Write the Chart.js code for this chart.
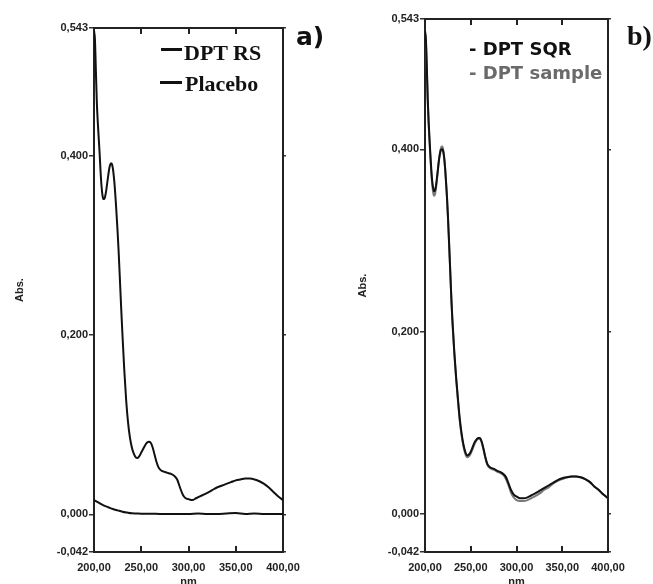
<!DOCTYPE html>
<html><head><meta charset="utf-8">
<script src="https://cdn.jsdelivr.net/npm/chart.js@4.4.0/dist/chart.umd.min.js"></script>
<style>
body{margin:0;background:#fff;width:653px;height:584px;overflow:hidden;position:relative;}
canvas{position:absolute;top:0;}
.t{position:absolute;white-space:nowrap;color:#111;line-height:1;}
.mk{position:absolute;height:3px;background:#111;}
</style></head><body>
<canvas id="ca" width="330" height="584" style="left:0"></canvas>
<canvas id="cb" width="313" height="584" style="left:340px"></canvas>

<div class="mk" style="left:161px;top:48px;width:21px"></div>
<div class="t" style="left:184px;top:40px;font:bold 22px 'Liberation Serif'">DPT RS</div>
<div class="mk" style="left:160px;top:81px;width:22px"></div>
<div class="t" style="left:185px;top:71px;font:bold 22px 'Liberation Serif'">Placebo</div>
<div class="t" style="left:296px;top:22px;font:bold 25px 'DejaVu Sans'">a)</div>

<div class="t" style="left:469px;top:38px;font:bold 18px 'DejaVu Sans';color:#111">- DPT SQR</div>
<div class="t" style="left:469px;top:62px;font:bold 18px 'DejaVu Sans';color:#6a6a6a">- DPT sample</div>
<div class="t" style="left:627px;top:20px;font:bold 28px 'Liberation Serif'">b)</div>

<script>
// ---- data ----
const wavelengths = [200,201,202,203,204,205,206,207,208,209,210,211,212,213,214,215,216,217,218,219,220,221,222,223,224,225,226,227,228,229,230,232,234,236,238,240,242,244,246,248,250,252,254,256,258,260,262,264,266,268,270,273,276,279,282,285,288,291,294,297,300,304,308,312,316,320,325,330,335,340,345,350,355,360,365,370,375,380,385,390,395,400];

const dptRS = [0.540,0.530,0.495,0.460,0.438,0.420,0.402,0.382,0.366,0.356,0.352,0.352,0.356,0.362,0.370,0.378,0.385,0.390,0.392,0.391,0.386,0.377,0.365,0.350,0.333,0.315,0.295,0.272,0.248,0.225,0.203,0.162,0.128,0.103,0.086,0.075,0.068,0.064,0.063,0.065,0.069,0.073,0.077,0.080,0.081,0.080,0.075,0.067,0.059,0.053,0.050,0.048,0.047,0.046,0.045,0.043,0.039,0.030,0.022,0.018,0.017,0.016,0.018,0.020,0.022,0.024,0.027,0.030,0.032,0.034,0.036,0.038,0.039,0.040,0.040,0.039,0.037,0.034,0.030,0.025,0.020,0.016];

const placeboWavelengths = [200,205,210,215,220,225,230,235,240,245,250,260,270,280,290,300,310,320,330,340,350,360,370,380,390,400];
const placebo = [0.016,0.013,0.010,0.008,0.006,0.0045,0.003,0.002,0.0012,0.001,0.0008,0.0008,0.0005,0.0005,0.0005,0.0005,0.001,0.0005,0.0005,0.001,0.0015,0.0005,0.001,0.0005,0.0005,0.0005];

const dptSQR = [0.530,0.520,0.490,0.455,0.430,0.410,0.392,0.376,0.364,0.357,0.354,0.355,0.360,0.368,0.377,0.386,0.393,0.398,0.400,0.400,0.397,0.390,0.379,0.364,0.348,0.328,0.305,0.281,0.256,0.232,0.212,0.178,0.150,0.126,0.104,0.088,0.076,0.068,0.064,0.065,0.068,0.073,0.078,0.081,0.083,0.083,0.079,0.071,0.062,0.055,0.052,0.050,0.049,0.047,0.046,0.044,0.041,0.034,0.026,0.021,0.019,0.017,0.017,0.018,0.020,0.022,0.025,0.028,0.031,0.034,0.037,0.039,0.040,0.041,0.041,0.040,0.038,0.035,0.030,0.026,0.021,0.017];

const dptSample = [0.528,0.518,0.488,0.452,0.427,0.407,0.389,0.372,0.360,0.352,0.349,0.351,0.357,0.366,0.376,0.386,0.394,0.400,0.403,0.403,0.399,0.391,0.379,0.364,0.347,0.327,0.304,0.280,0.255,0.231,0.210,0.176,0.148,0.124,0.102,0.086,0.074,0.066,0.062,0.063,0.066,0.071,0.076,0.080,0.082,0.082,0.078,0.070,0.061,0.054,0.051,0.049,0.048,0.046,0.045,0.043,0.039,0.032,0.023,0.018,0.015,0.014,0.014,0.015,0.017,0.019,0.022,0.026,0.029,0.033,0.036,0.038,0.040,0.041,0.041,0.040,0.038,0.035,0.030,0.026,0.021,0.017];

const yTickValues = [-0.042, 0, 0.2, 0.4, 0.543];
const xTickValues = [200, 250, 300, 350, 400];
const innerXTickValues = [250, 300, 350];
const yMin = -0.042, yMax = 0.543, xMin = 200, xMax = 400;

// ---- helpers ----
const pts = (xs, ys) => xs.map((x, i) => ({x: x, y: ys[i]}));
const tickFont = {family: "'Liberation Sans'", size: 11, weight: 'bold'};
const titleFont = {family: "'Liberation Sans'", size: 11, weight: 'bold'};
const borderOpt = {display: true, width: 2, color: '#222'};

const innerTicks = {
  id: 'innerTicks',
  afterDraw(chart) {
    const {ctx, chartArea: {top, bottom}, scales: {x}} = chart;
    ctx.save();
    ctx.strokeStyle = '#222';
    ctx.lineWidth = 2;
    innerXTickValues.forEach(v => {
      const px = Math.round(x.getPixelForValue(v));
      ctx.beginPath();
      ctx.moveTo(px, bottom); ctx.lineTo(px, bottom - 6);
      ctx.moveTo(px, top); ctx.lineTo(px, top + 6);
      ctx.stroke();
    });
    ctx.restore();
  }
};

function makeChart(id, datasets, yWidth, padding, yTitlePad) {
  return new Chart(document.getElementById(id), {
    type: 'line',
    data: {datasets: datasets},
    options: {
      responsive: false,
      animation: false,
      devicePixelRatio: 1,
      layout: {padding: padding},
      plugins: {legend: {display: false}, tooltip: {enabled: false}},
      elements: {point: {radius: 0}, line: {cubicInterpolationMode: 'monotone'}},
      scales: {
        x: {
          type: 'linear', position: 'bottom', min: xMin, max: xMax,
          afterBuildTicks: s => { s.ticks = xTickValues.map(v => ({value: v})); },
          afterFit: s => { s.height = 32; },
          ticks: {autoSkip: false, maxRotation: 0, padding: 9, color: '#222', font: tickFont,
                  callback: v => v.toFixed(2).replace('.', ',')},
          grid: {drawOnChartArea: false, drawTicks: false},
          border: borderOpt,
          title: {display: true, text: 'nm', color: '#222', font: titleFont, padding: {top: 0, bottom: -5}}
        },
        x2: {
          type: 'linear', position: 'top', min: xMin, max: xMax,
          afterFit: s => { s.height = 0; },
          ticks: {display: false},
          grid: {drawOnChartArea: false, drawTicks: false},
          border: borderOpt
        },
        y: {
          type: 'linear', position: 'left', min: yMin, max: yMax,
          afterBuildTicks: s => { s.ticks = yTickValues.map(v => ({value: v})); },
          afterFit: s => { s.width = yWidth; },
          ticks: {autoSkip: false, padding: 1, color: '#222', font: tickFont,
                  callback: v => v.toFixed(3).replace('.', ',')},
          grid: {drawOnChartArea: false, drawTicks: true, tickLength: 5, color: '#333', lineWidth: 1.5},
          border: borderOpt,
          title: {display: true, text: 'Abs.', color: '#222', font: titleFont, padding: {top: yTitlePad, bottom: 0}}
        },
        y2: {
          type: 'linear', position: 'right', min: yMin, max: yMax,
          afterBuildTicks: s => { s.ticks = yTickValues.map(v => ({value: v})); },
          afterFit: s => { s.width = 0; },
          ticks: {display: false},
          grid: {drawOnChartArea: false, drawTicks: true, tickLength: 3, color: '#333', lineWidth: 1.5},
          border: borderOpt
        }
      }
    },
    plugins: [innerTicks]
  });
}

makeChart('ca', [
  {label: 'DPT RS', data: pts(wavelengths, dptRS), borderColor: '#111', borderWidth: 2, xAxisID: 'x', yAxisID: 'y'},
  {label: 'Placebo', data: pts(placeboWavelengths, placebo), borderColor: '#111', borderWidth: 2, xAxisID: 'x', yAxisID: 'y'}
], 94, {left: 0, right: 47, top: 28, bottom: 0}, 13);

makeChart('cb', [
  {label: 'DPT SQR', data: pts(wavelengths, dptSQR), borderColor: '#111', borderWidth: 2, xAxisID: 'x', yAxisID: 'y'},
  {label: 'DPT sample', data: pts(wavelengths, dptSample), borderColor: '#7a7a7a', borderWidth: 2, xAxisID: 'x', yAxisID: 'y'}
], 85, {left: 0, right: 45, top: 19, bottom: 0}, 16);
</script>
</body></html>
